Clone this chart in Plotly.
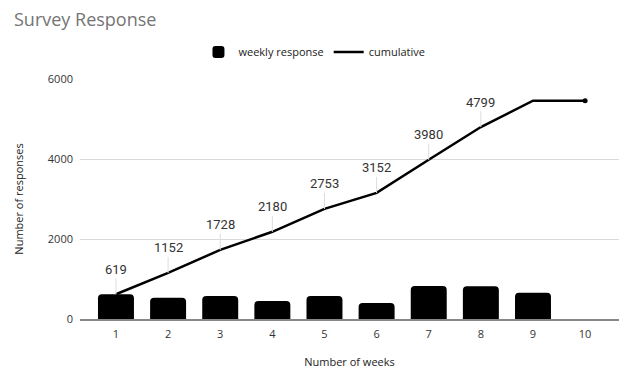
import plotly.graph_objects as go

# Survey responses per week and the running total
weeks = [1, 2, 3, 4, 5, 6, 7, 8, 9, 10]
weekly_response = [619, 533, 576, 452, 573, 399, 828, 819, 658, 0]
cumulative = [619, 1152, 1728, 2180, 2753, 3152, 3980, 4799, 5457, 5457]
labelled_weeks = 8  # data labels shown on the first eight cumulative points
y_ticks = [0, 2000, 4000, 6000]

FONT = "Open Sans"
LABEL_FONT = "Roboto"

fig = go.Figure()

fig.add_trace(go.Bar(
    x=weeks,
    y=weekly_response,
    name="weekly response",
    width=0.69,
    marker=dict(color="#000000", cornerradius=4, line=dict(width=0)),
))

fig.add_trace(go.Scatter(
    x=weeks,
    y=cumulative,
    name="cumulative",
    mode="lines",
    line=dict(color="#000000", width=2.5),
))

# end-point dot on the cumulative line
fig.add_trace(go.Scatter(
    x=weeks[-1:],
    y=cumulative[-1:],
    mode="markers",
    marker=dict(color="#000000", size=5),
    showlegend=False,
    hoverinfo="skip",
))

# value labels with thin leader lines above the cumulative line
for wk, val in zip(weeks[:labelled_weeks], cumulative[:labelled_weeks]):
    fig.add_annotation(
        x=wk, y=val, text=str(val),
        showarrow=True, arrowhead=0, arrowwidth=1, arrowcolor="#dddddd",
        ax=0, ay=-25, standoff=0,
        font=dict(family=LABEL_FONT, size=13, color="#333333"),
    )

fig.update_layout(
    width=619, height=372,
    margin=dict(l=80, r=0, t=79, b=53),
    paper_bgcolor="#ffffff",
    plot_bgcolor="#ffffff",
    bargap=0.3,
    title=dict(
        text="Survey Response",
        x=14 / 619, xref="container", xanchor="left",
        y=1 - 20 / 372, yref="container", yanchor="middle",
        font=dict(family=FONT, size=18, color="#757575"),
    ),
    legend=dict(
        orientation="h",
        x=0.435, xanchor="center",
        y=1.112, yanchor="middle",
        font=dict(family=FONT, size=11, color="#222222"),
        itemwidth=30,
        traceorder="normal",
    ),
    showlegend=True,
)

fig.update_xaxes(
    range=[0.31, 10.65],
    tickmode="array", tickvals=weeks, ticktext=[str(w) for w in weeks],
    showgrid=False, zeroline=False,
    showline=True, linecolor="#888888", linewidth=1.5,
    ticks="", ticklabelstandoff=4,
    tickfont=dict(family=FONT, size=11, color="#333333"),
    title=dict(text="Number of weeks", standoff=18,
               font=dict(family=FONT, size=11, color="#222222")),
    fixedrange=True,
)

fig.update_yaxes(
    range=[0, 6000],
    tickmode="array", tickvals=y_ticks, ticktext=[str(t) for t in y_ticks],
    showgrid=True, gridcolor="#d9d9d9", gridwidth=1,
    zeroline=False, showline=False,
    ticks="", ticklabelstandoff=6,
    tickfont=dict(family=FONT, size=11, color="#333333"),
    title=dict(text="Number of responses", standoff=21,
               font=dict(family=FONT, size=11, color="#222222")),
    fixedrange=True,
)

fig.write_html("out.html")
